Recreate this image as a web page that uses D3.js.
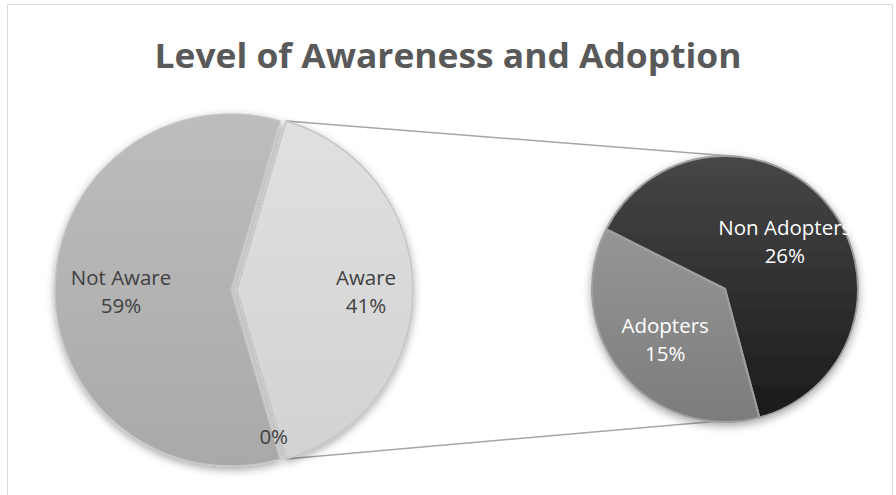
<!DOCTYPE html>
<html>
<head>
<meta charset="utf-8">
<script src="https://cdn.jsdelivr.net/npm/d3@7"></script>
<style>
  body { margin: 0; background: #fff; }
  svg { display: block; font-family: 'Open Sans', sans-serif; }
</style>
</head>
<body>
<svg id="svg" width="896" height="495"></svg>
<script>
(function() {

    const svg = d3.select('#svg')
    const width = 896, height = 495

    // main pie: Aware is the "other" slice that is split out into the second pie
    const mainCats = ['Aware', '', 'Not Aware']
    const mainVals = [41, 0, 59]
    const mainLabels = ['41%', '0%', '59%']

    // second pie
    const subCats = ['Non Adopters', 'Adopters']
    const subVals = [26, 15]
    const subLabels = ['26%', '15%']

    const deg = Math.PI / 180

    // chart frame
    svg.append('rect')
        .attr('x', 7.5).attr('y', 4.5)
        .attr('width', 885).attr('height', 510)
        .attr('fill', 'none')
        .attr('stroke', '#d9d9d9')
        .attr('stroke-width', 1)

    // title
    svg.append('text')
        .attr('x', width / 2)
        .attr('y', 68)
        .attr('text-anchor', 'middle')
        .attr('textLength', 587)
        .attr('lengthAdjust', 'spacingAndGlyphs')
        .style('font-size', '34px')
        .style('font-weight', 'bold')
        .style('fill', '#595959')
        .text('Level of Awareness and Adoption')

    const defs = svg.append('defs')

    const shadow = defs.append('filter')
        .attr('id', 'shadow')
        .attr('x', '-20%').attr('y', '-20%')
        .attr('width', '140%').attr('height', '140%')
    shadow.append('feDropShadow')
        .attr('dx', 0).attr('dy', 3)
        .attr('stdDeviation', 4)
        .attr('flood-color', '#000')
        .attr('flood-opacity', 0.35)

    // vertical gradients, one per slice colour
    const grads = [
        { id: 'gAware', top: '#e0e0e0', bottom: '#d2d2d2' },
        { id: 'gZero', top: '#bdbdbd', bottom: '#a9a9a9' },
        { id: 'gNot', top: '#bdbdbd', bottom: '#a9a9a9' },
        { id: 'gNon', top: '#474747', bottom: '#1a1a1a' },
        { id: 'gAdopt', top: '#969696', bottom: '#7c7c7c' }
    ]
    grads.forEach(g => {
        const lg = defs.append('linearGradient')
            .attr('id', g.id)
            .attr('x1', 0).attr('y1', 0).attr('x2', 0).attr('y2', 1)
        lg.append('stop').attr('offset', '0%').attr('stop-color', g.top)
        lg.append('stop').attr('offset', '100%').attr('stop-color', g.bottom)
    })

    // main pie geometry
    const mainCx = 231, mainCy = 290, mainR = 176, explode = 6
    const mainStart = 90 - mainVals[0] / 100 * 180   // Aware centred on the right

    const mainPie = d3.pie()
        .value(d => d)
        .sort(null)
        .startAngle(mainStart * deg)
        .endAngle((mainStart + 360) * deg)

    const mainArcs = mainPie(mainVals)
    const mainArc = d3.arc().innerRadius(0).outerRadius(mainR)
    const mainFill = ['url(#gAware)', 'url(#gZero)', 'url(#gNot)']
    const mainLabelR = [0.733, 0.87, 0.625]

    // second pie geometry
    const subCx = 725, subCy = 289, subR = 133
    const subStart = 165 - 360 * subVals[0] / d3.sum(subVals)
    const subPie = d3.pie()
        .value(d => d)
        .sort(null)
        .startAngle(subStart * deg)
        .endAngle((subStart + 360) * deg)
    const subArcs = subPie(subVals)
    const subArc = d3.arc().innerRadius(0).outerRadius(subR)
    const subFill = ['url(#gNon)', 'url(#gAdopt)']

    // connector lines
    const aw = mainArcs[0]
    const pt = (cx, cy, r, a) => [cx + r * Math.sin(a), cy - r * Math.cos(a)]
    const awCx = mainCx + explode, awCy = mainCy
    const connectors = [
        [pt(awCx, awCy, mainR, aw.startAngle), pt(subCx, subCy, subR, 5 * deg)],
        [pt(awCx, awCy, mainR, aw.endAngle), pt(subCx, subCy, subR, 165 * deg)]
    ]
    svg.selectAll('.connector')
        .data(connectors)
        .enter()
        .append('line')
            .attr('class', 'connector')
            .attr('x1', d => d[0][0])
            .attr('y1', d => d[0][1])
            .attr('x2', d => d[1][0])
            .attr('y2', d => d[1][1])
            .style('stroke', '#a6a6a6')
            .style('stroke-width', 1.5)

    // main pie slices
    const gMain = svg.append('g').attr('filter', 'url(#shadow)')
    gMain.selectAll('path')
        .data(mainArcs)
        .enter()
        .append('path')
            .attr('transform', (d, i) => i == 0
                ? `translate(${awCx},${awCy})`
                : `translate(${mainCx},${mainCy})`)
            .attr('d', mainArc)
            .attr('fill', (d, i) => mainFill[i])
            .style('stroke', '#c4c4c4')
            .style('stroke-width', 1.5)
            .style('stroke-linejoin', 'round')

    // second pie slices
    const gSub = svg.append('g')
        .attr('transform', `translate(${subCx},${subCy})`)
        .attr('filter', 'url(#shadow)')
    gSub.selectAll('path')
        .data(subArcs)
        .enter()
        .append('path')
            .attr('d', subArc)
            .attr('fill', (d, i) => subFill[i])
            .style('stroke', '#a0a0a0')
            .style('stroke-width', 2)
            .style('stroke-linejoin', 'round')

    // labels
    function addLabel(cx, cy, lines, color) {
        const t = svg.append('text')
            .attr('text-anchor', 'middle')
            .style('font-size', '20.5px')
            .style('fill', color)
        lines.forEach((s, i) => {
            t.append('tspan')
                .attr('x', cx)
                .attr('y', lines.length == 1 ? cy + 7 : cy - 5 + i * 28)
                .text(s)
        })
    }

    mainArcs.forEach((d, i) => {
        const a = mainVals[i] == 0 ? d.startAngle : (d.startAngle + d.endAngle) / 2
        const ox = i == 0 ? awCx : mainCx
        const p = pt(ox, mainCy, mainR * mainLabelR[i], a)
        const lines = mainCats[i] ? [mainCats[i], mainLabels[i]] : [mainLabels[i]]
        addLabel(p[0], p[1], lines, '#404040')
    })

    subArcs.forEach((d, i) => {
        const a = (d.startAngle + d.endAngle) / 2
        const p = pt(subCx, subCy, subR * 0.58, a)
        addLabel(p[0], p[1], [subCats[i], subLabels[i]], '#ffffff')
    })

})();
</script>
</body>
</html>
